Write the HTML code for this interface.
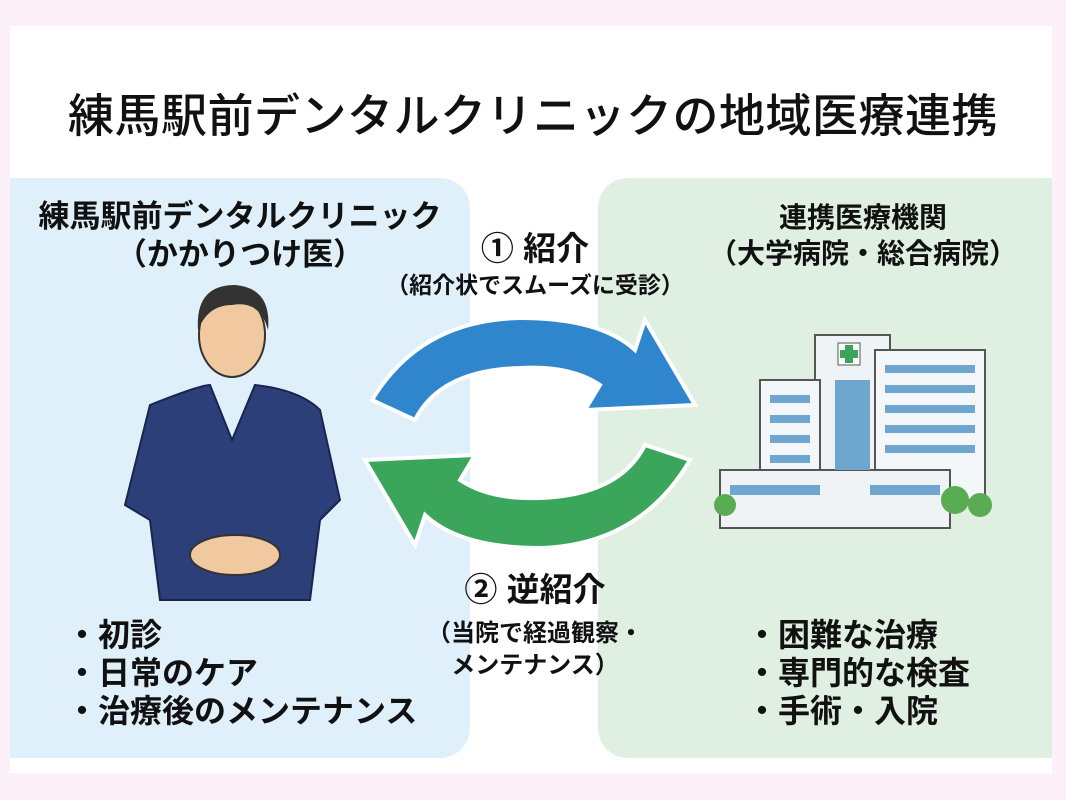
<!DOCTYPE html>
<html><head><meta charset="utf-8"><style>
body{margin:0;width:1066px;height:800px;background:#fcf1f8;position:relative;overflow:hidden;font-family:"Liberation Sans","Noto Sans CJK JP",sans-serif;font-weight:bold;color:#111}
.a{position:absolute}
.t{white-space:nowrap;text-align:center}
</style></head><body>
<div class="a" style="left:10px;top:26px;width:1042px;height:747px;background:#fff"></div>
<div class="a" style="left:10px;top:178px;width:460px;height:580px;background:#e0f0fa;border-radius:0 30px 30px 0"></div>
<div class="a" style="left:598px;top:178px;width:454px;height:580px;background:#dff0e2;border-radius:30px 0 0 30px"></div>
<div class="a t" style="left:0;width:1066px;top:80px;font-size:46px;font-weight:500;letter-spacing:0.5px">練馬駅前デンタルクリニックの地域医療連携</div>
<div class="a t" style="left:10px;width:460px;top:198px;font-size:31px;line-height:38px">練馬駅前デンタルクリニック<br>（かかりつけ医）</div>
<div class="a t" style="left:636px;width:454px;top:200px;font-size:28px;line-height:36px">連携医療機関<br>（大学病院・総合病院）</div>
<div class="a t" style="left:385px;width:300px;top:222px;font-size:33px">① 紹介</div>
<div class="a t" style="left:335px;width:400px;top:266px;font-size:23px">（紹介状でスムーズに受診）</div>
<div class="a t" style="left:385px;width:300px;top:563px;font-size:33px">② 逆紹介</div>
<div class="a t" style="left:385px;width:300px;top:618px;font-size:24px;line-height:32px">（当院で経過観察・<br>メンテナンス）</div>
<div class="a" style="left:66px;top:616px;font-size:32px;line-height:38px">・初診<br>・日常のケア<br>・治療後のメンテナンス</div>
<div class="a" style="left:746px;top:616px;font-size:32px;line-height:38px">・困難な治療<br>・専門的な検査<br>・手術・入院</div>
<svg class="a" style="left:0;top:0" width="1066" height="800">
<path d="M372,400 Q420,320 520,318 Q600,318 635,350 L645,320 L695,405 L585,410 L600,385 Q570,365 520,368 Q440,370 415,420 Z" fill="#2f86cc" stroke="#fff" stroke-width="4"/>
<path d="M690,460 Q640,545 540,548 Q460,548 425,515 L415,545 L365,460 L475,455 L460,480 Q490,500 540,498 Q620,495 645,445 Z" fill="#3ba55c" stroke="#fff" stroke-width="4"/>
<ellipse cx="232" cy="335" rx="33" ry="42" fill="#f0c9a0" stroke="#333" stroke-width="2"/>
<path d="M198,330 Q195,285 235,285 Q272,288 268,330 Q260,300 232,305 Q208,305 198,330Z" fill="#333"/>
<path d="M150,405 Q200,385 210,385 L232,440 L255,385 Q300,390 320,410 L340,500 L320,520 L310,600 L160,600 L150,520 L125,505Z" fill="#2d3f78" stroke="#1a2450" stroke-width="2"/>
<ellipse cx="235" cy="555" rx="45" ry="20" fill="#f0c9a0" stroke="#333" stroke-width="2"/>
<rect x="815" y="335" width="75" height="170" fill="#eef3f8" stroke="#555" stroke-width="2"/>
<rect x="875" y="350" width="110" height="150" fill="#f4f7fa" stroke="#555" stroke-width="2"/>
<rect x="760" y="380" width="60" height="120" fill="#f4f7fa" stroke="#555" stroke-width="2"/>
<rect x="720" y="470" width="230" height="58" fill="#f0f3f6" stroke="#555" stroke-width="2"/>
<g fill="#6fa6cf">
<rect x="885" y="365" width="90" height="8"/><rect x="885" y="385" width="90" height="8"/><rect x="885" y="405" width="90" height="8"/><rect x="885" y="425" width="90" height="8"/><rect x="885" y="445" width="90" height="8"/>
<rect x="770" y="395" width="40" height="8"/><rect x="770" y="415" width="40" height="8"/><rect x="770" y="435" width="40" height="8"/><rect x="770" y="455" width="40" height="8"/>
<rect x="835" y="380" width="35" height="90"/>
<rect x="730" y="485" width="90" height="10"/><rect x="870" y="485" width="70" height="10"/>
</g>
<rect x="838" y="343" width="22" height="22" fill="#fff" stroke="#555"/>
<path d="M845,345h8v5h5v8h-5v5h-8v-5h-5v-8h5z" fill="#3aa55a"/>
<circle cx="955" cy="500" r="14" fill="#5aac52"/><circle cx="980" cy="505" r="12" fill="#5aac52"/><circle cx="725" cy="505" r="11" fill="#5aac52"/>
</svg>
</body></html>
